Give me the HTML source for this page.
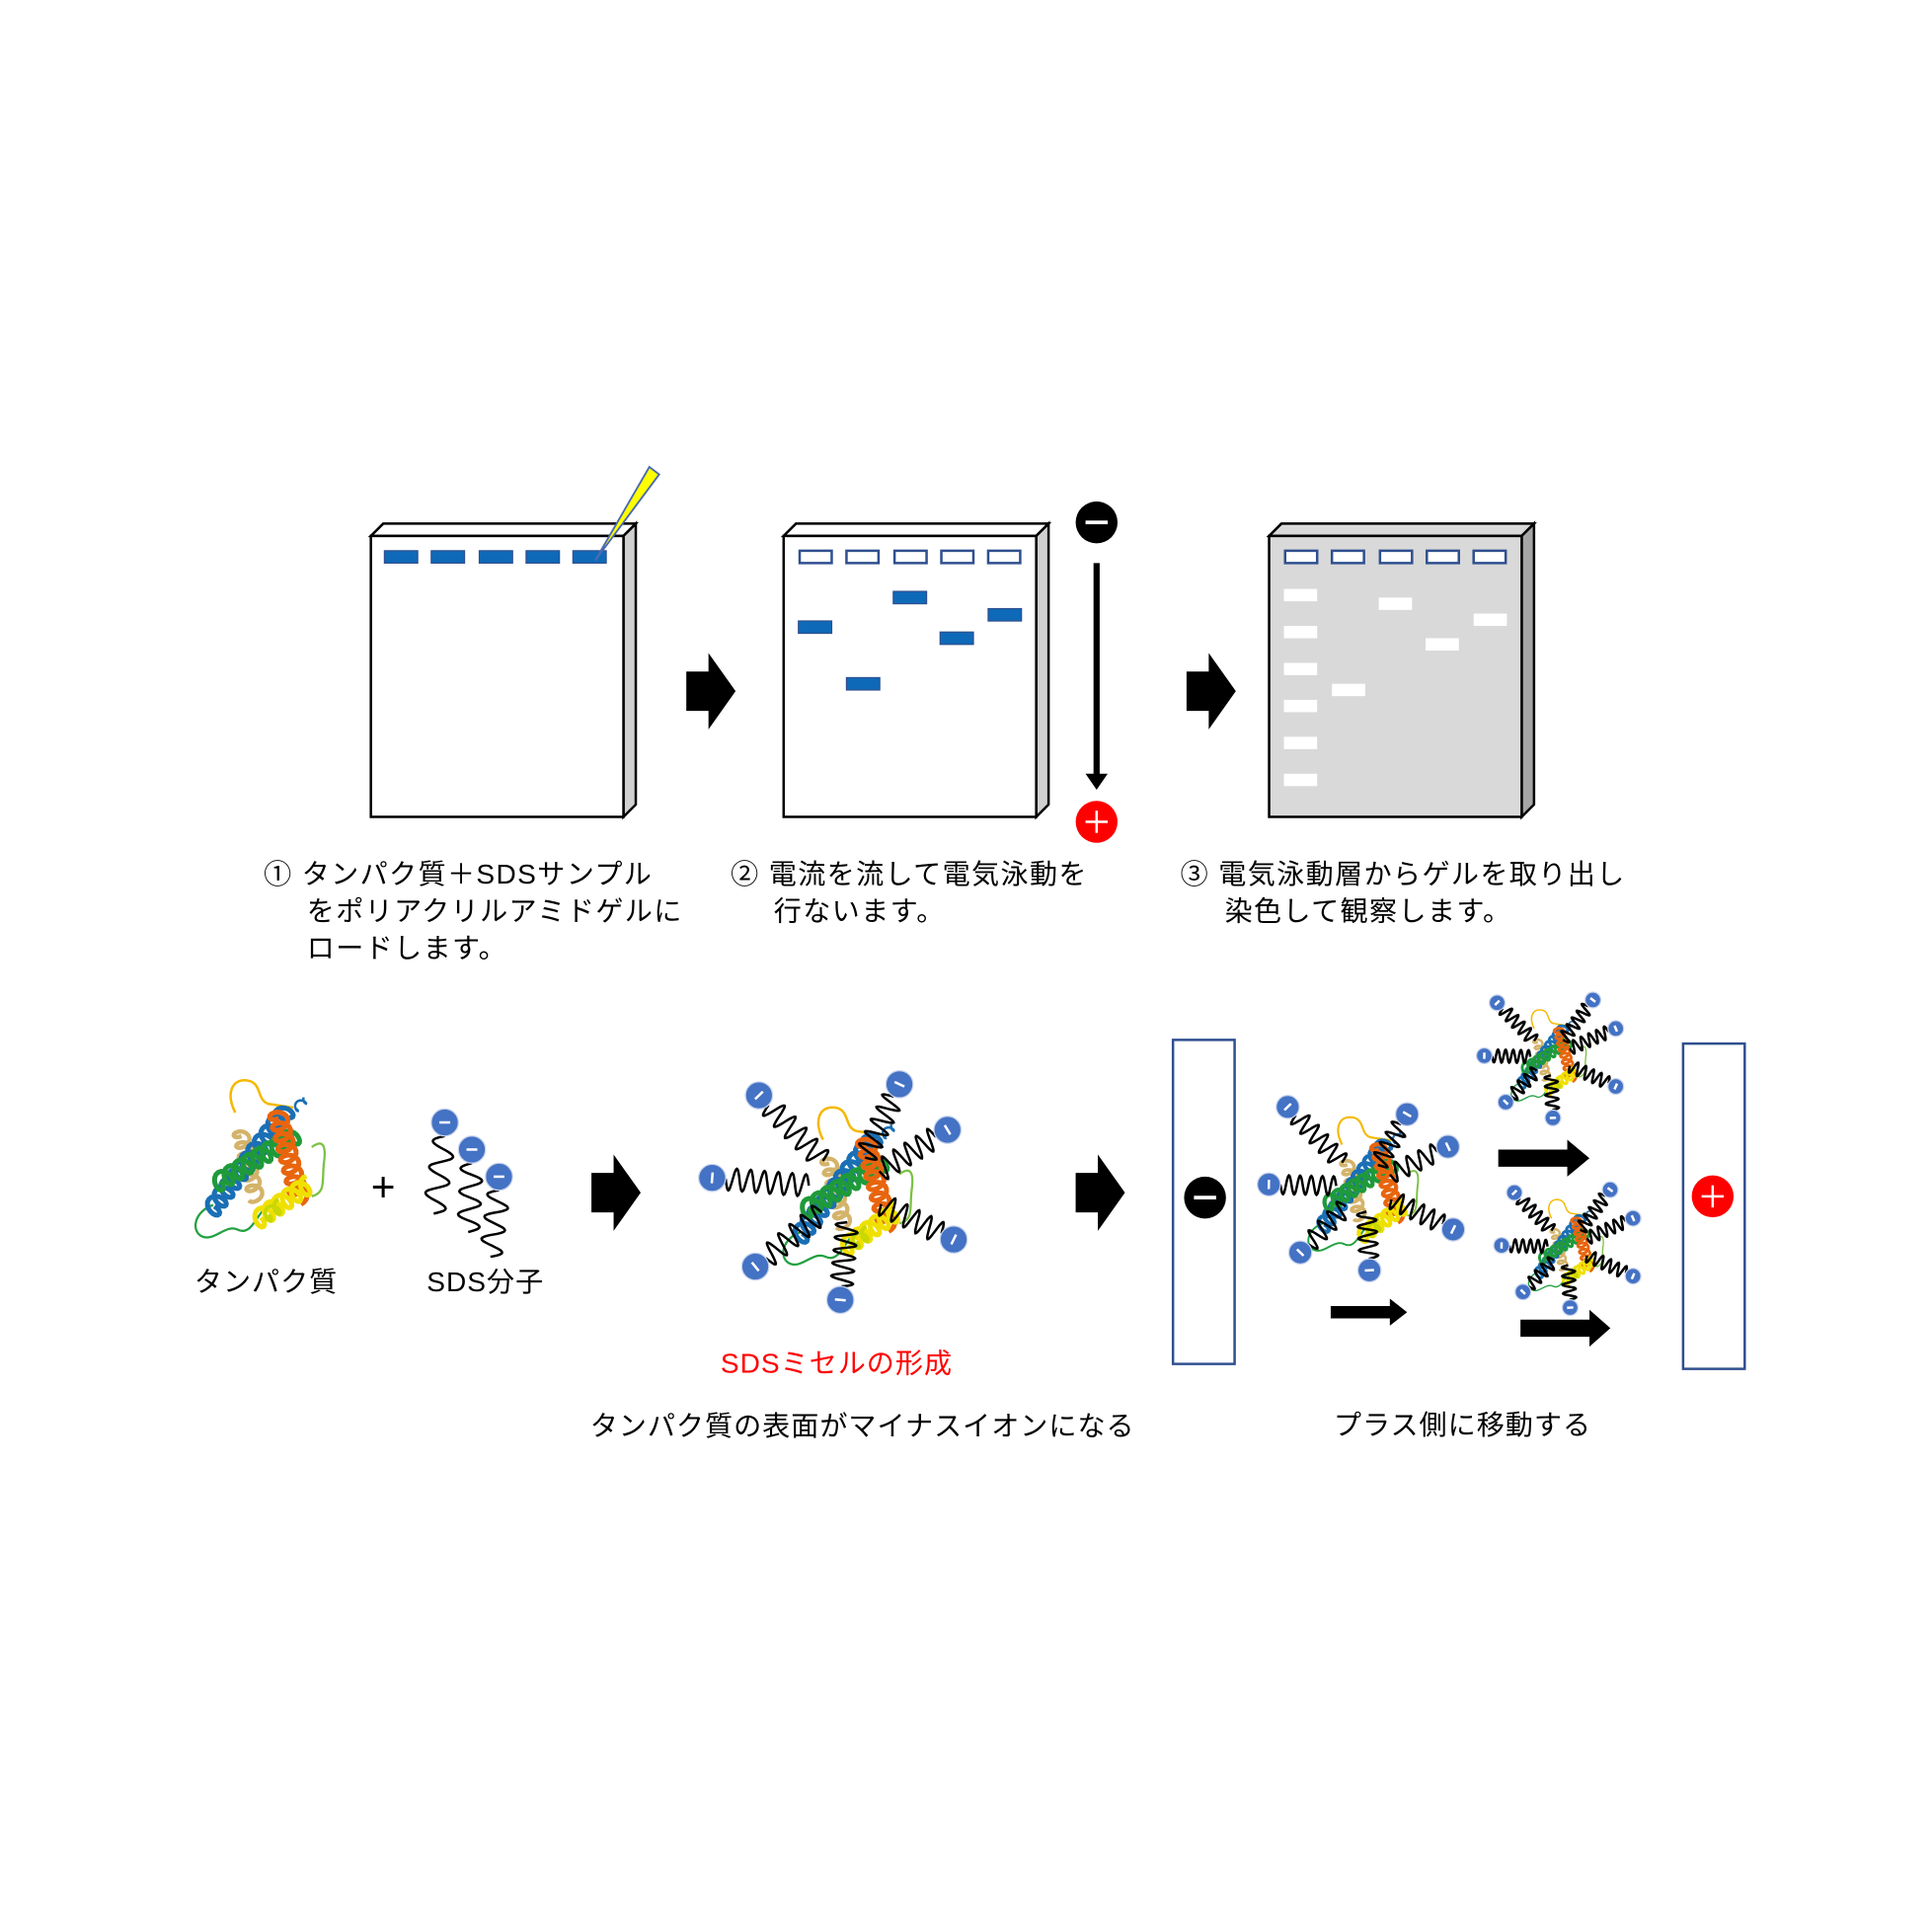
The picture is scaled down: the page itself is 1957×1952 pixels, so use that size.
<!DOCTYPE html>
<html><head><meta charset="utf-8"><style>
html,body{margin:0;padding:0;background:#fff}
svg{display:block}
text{font-family:"Liberation Sans","Noto Sans CJK JP",sans-serif;fill:#000}
.st{letter-spacing:1.1px}
.bt{letter-spacing:0.8px}
</style></head><body>
<svg id="s" width="1957" height="1952" viewBox="0 0 1568 1564" xmlns="http://www.w3.org/2000/svg">
<defs>
<g id="arrowBig"><polygon points="0,15 18,15 18,0 40,31 18,62 18,47 0,47" fill="#000"/></g>
</defs>
<polygon points="301,435 311,425 516,425 506,435" fill="#fff" stroke="#000" stroke-width="2"/>
<polygon points="506,435 516,425 516,653 506,663" fill="#d0d0d0" stroke="#000" stroke-width="2"/>
<rect x="301" y="435" width="205" height="228" fill="#fff" stroke="#000" stroke-width="2"/>
<g fill="#0e6ab8" stroke="#2f4f8f" stroke-width="1">
<rect x="312" y="447" width="27" height="10"/><rect x="350" y="447" width="27" height="10"/><rect x="389" y="447" width="27" height="10"/><rect x="427" y="447" width="27" height="10"/><rect x="465" y="447" width="27" height="10"/>
</g>
<polygon points="483,455 527,379 535,385" fill="#ffff00" stroke="#4a6ab0" stroke-width="1.5"/>
<polygon points="636,435 646,425 851,425 841,435" fill="#fff" stroke="#000" stroke-width="2"/>
<polygon points="841,435 851,425 851,653 841,663" fill="#d0d0d0" stroke="#000" stroke-width="2"/>
<rect x="636" y="435" width="205" height="228" fill="#fff" stroke="#000" stroke-width="2"/>
<g fill="#fff" stroke="#2f4f8f" stroke-width="2">
<rect x="649" y="447" width="26" height="10"/><rect x="687" y="447" width="26" height="10"/><rect x="726" y="447" width="26" height="10"/><rect x="764" y="447" width="26" height="10"/><rect x="802" y="447" width="26" height="10"/>
</g>
<g fill="#0e6ab8" stroke="#2f4f8f" stroke-width="1">
<rect x="648" y="504" width="27" height="10"/><rect x="687" y="550" width="27" height="10"/><rect x="725" y="480" width="27" height="10"/><rect x="763" y="513" width="27" height="10"/><rect x="802" y="494" width="27" height="10"/>
</g>
<circle cx="890" cy="424" r="17" fill="#000"/><rect x="881" y="422.5" width="18" height="3" fill="#fff"/>
<line x1="890" y1="457" x2="890" y2="630" stroke="#000" stroke-width="5"/>
<polygon points="881,628 899,628 890,641" fill="#000"/>
<circle cx="890" cy="667" r="17" fill="#f00"/><rect x="881" y="666" width="18" height="2" fill="#fff"/><rect x="889" y="658" width="2" height="18" fill="#fff"/>
<polygon points="1030,435 1040,425 1245,425 1235,435" fill="#d9d9d9" stroke="#000" stroke-width="2"/>
<polygon points="1235,435 1245,425 1245,653 1235,663" fill="#a6a6a6" stroke="#000" stroke-width="2"/>
<rect x="1030" y="435" width="205" height="228" fill="#d9d9d9" stroke="#000" stroke-width="2"/>
<g fill="#fff" stroke="#2f4f8f" stroke-width="2">
<rect x="1043" y="447" width="26" height="10"/><rect x="1081" y="447" width="26" height="10"/><rect x="1120" y="447" width="26" height="10"/><rect x="1158" y="447" width="26" height="10"/><rect x="1196" y="447" width="26" height="10"/>
</g>
<g fill="#fff">
<rect x="1042" y="478" width="27" height="10"/><rect x="1042" y="508" width="27" height="10"/><rect x="1042" y="538" width="27" height="10"/><rect x="1042" y="568" width="27" height="10"/><rect x="1042" y="598" width="27" height="10"/><rect x="1042" y="628" width="27" height="10"/>
<rect x="1081" y="555" width="27" height="10"/><rect x="1119" y="485" width="27" height="10"/><rect x="1157" y="518" width="27" height="10"/><rect x="1196" y="498" width="27" height="10"/>
</g>
<use href="#arrowBig" x="557" y="530"/>
<use href="#arrowBig" x="963" y="530"/>
<g font-size="22.5" class="st">
<text x="214" y="717">① タンパク質＋SDSサンプル</text>
<text x="249" y="747">をポリアクリルアミドゲルに</text>
<text x="249" y="777">ロードします。</text>
<text x="593" y="717">② 電流を流して電気泳動を</text>
<text x="628" y="747">行ないます。</text>
<text x="958" y="717">③ 電気泳動層からゲルを取り出し</text>
<text x="994" y="747">染色して観察します。</text>
</g>
<g id="dyn"></g>
<g font-size="22.5" class="bt">
<text x="216" y="1048" text-anchor="middle">タンパク質</text>
<text x="394" y="1048" text-anchor="middle">SDS分子</text>
<text x="679" y="1114" text-anchor="middle" style="fill:#ff0000">SDSミセルの形成</text>
<text x="700" y="1165" text-anchor="middle">タンパク質の表面がマイナスイオンになる</text>
<text x="1187" y="1164" text-anchor="middle">プラス側に移動する</text>
</g>
<text x="311" y="975" font-size="34" text-anchor="middle">+</text>
<use href="#arrowBig" x="480" y="937"/>
<use href="#arrowBig" x="873" y="937"/>
<rect x="952" y="844" width="50" height="263" fill="#fff" stroke="#2f4f8f" stroke-width="2"/>
<circle cx="978" cy="972" r="17" fill="#000"/><rect x="969" y="970.5" width="18" height="3" fill="#fff"/>
<rect x="1366" y="847" width="50" height="264" fill="#fff" stroke="#2f4f8f" stroke-width="2"/>
<circle cx="1390" cy="971" r="17" fill="#f00"/><rect x="1381" y="970" width="18" height="2" fill="#fff"/><rect x="1389" y="962" width="2" height="18" fill="#fff"/>
<polygon points="1080,1060 1128,1060 1128,1054 1142,1065 1128,1076 1128,1070 1080,1070" fill="#000"/>
<polygon points="1216,933 1272,933 1272,925 1290,940 1272,955 1272,947 1216,947" fill="#000"/>
<polygon points="1234,1071 1290,1071 1290,1063 1307,1078 1290,1093 1290,1085 1234,1085" fill="#000"/>
</svg>
<script>
var NS="http://www.w3.org/2000/svg",dyn=document.getElementById("dyn");
function el(t,a,p){var e=document.createElementNS(NS,t);for(var k in a)e.setAttribute(k,a[k]);(p||dyn).appendChild(e);return e;}
function helix(g,x1,y1,x2,y2,c,w,amp){var dx=x2-x1,dy=y2-y1,L=Math.hypot(dx,dy),ux=dx/L,uy=dy/L,nx=-uy,ny=ux,turns=L/9,pts=[];for(var i=0;i<=turns*16;i++){var t=i/(turns*16),a=2*Math.PI*turns*t;var s=Math.sin(a)*amp,cc=Math.cos(a)*amp*0.7;pts.push((x1+ux*L*t+nx*s+ux*cc).toFixed(1)+","+(y1+uy*L*t+ny*s+uy*cc).toFixed(1));}el("polyline",{points:pts.join(" "),fill:"none",stroke:c,"stroke-width":w},g);}
function loop(g,d,c,w){el("path",{d:d,fill:"none",stroke:c,"stroke-width":w||1.6},g);}
function protein(cx,cy,s){var g=el("g",{transform:"translate("+cx+","+cy+") scale("+s+")"});
loop(g,"M-22,-40 C-30,-55 -25,-68 -12,-66 C0,-64 -5,-50 5,-47 L25,-44","#f5b800",2);
loop(g,"M-40,35 C-55,40 -58,55 -50,60 C-40,66 -30,50 -20,55 C-10,60 -5,45 0,40","#22a040",1.8);
loop(g,"M40,-12 C48,-18 52,-15 50,0 C48,15 52,25 40,28","#7ac142",1.8);
helix(g,-18,-25,-5,30,"#d4b36a",3.5,6);
helix(g,-42,40,20,-42,"#1a6fb5",4,7);
helix(g,25,-42,36,-52,"#1a6fb5",2,3);
helix(g,-38,18,28,-22,"#1f9a3a",4,7);
helix(g,12,-40,30,30,"#e8650e",4,7);
helix(g,-5,48,38,18,"#f0e000",4,7);
helix(g,2,45,15,35,"#c8d800",3,5);
return g;}
function wave(x1,y1,x2,y2,n,amp,g){var dx=x2-x1,dy=y2-y1,L=Math.hypot(dx,dy),nx=-dy/L,ny=dx/L,pts=[];for(var i=0;i<=n*20;i++){var t=i/(n*20),s=Math.sin(2*Math.PI*n*t)*amp;pts.push((x1+dx*t+nx*s).toFixed(1)+","+(y1+dy*t+ny*s).toFixed(1));}el("polyline",{points:pts.join(" "),fill:"none",stroke:"#000","stroke-width":2},g);}
function head(x,y,r,ang,g){el("circle",{cx:x,cy:y,r:r,fill:"#4472c4",stroke:"#c9d4ee","stroke-width":1},g);el("rect",{x:x-r*0.4,y:y-1,width:r*0.8,height:2,fill:"#fff",transform:"rotate("+ang+" "+x+" "+y+")"},g);}
function micelle(cx,cy,s,offs){protein(cx,cy,s);var g=el("g",{});offs.forEach(function(o){var ox=o[0]*s,oy=o[1]*s,L=Math.hypot(ox,oy),r=11*s;var sx=cx+ox-ox/L*r,sy=cy+oy-oy/L*r;wave(sx,sy,cx+ox*0.3,cy+oy*0.3,Math.max(2,Math.round(L/(20*s))),9*s,g);});offs.forEach(function(o){head(cx+o[0]*s,cy+o[1]*s,11*s,Math.atan2(o[1],o[0])*180/Math.PI+90,g);});}
protein(213,943,1);
var sg=el("g",{});
wave(361,922,352,985,3,9,sg);wave(383,944,380,1000,3,9,sg);wave(405,966,398,1020,3,9,sg);
head(361,911,11,0,sg);head(383,933,11,0,sg);head(405,955,11,0,sg);
micelle(690,965,1,[[-74,-76],[40,-85],[79,-48],[-112,-9],[84,41],[-77,63],[-8,90]]);
micelle(1108,963,0.85,[[-74,-76],[40,-69],[79,-38],[-92,-2],[84,41],[-62,63],[4,80]]);
micelle(1258,858,0.58,[[-74,-76],[60,-80],[92,-40],[-92,-2],[92,41],[-62,63],[4,85]]);
micelle(1272,1012,0.58,[[-74,-76],[60,-80],[92,-40],[-92,-2],[92,41],[-62,63],[4,85]]);
</script>
</body></html>
